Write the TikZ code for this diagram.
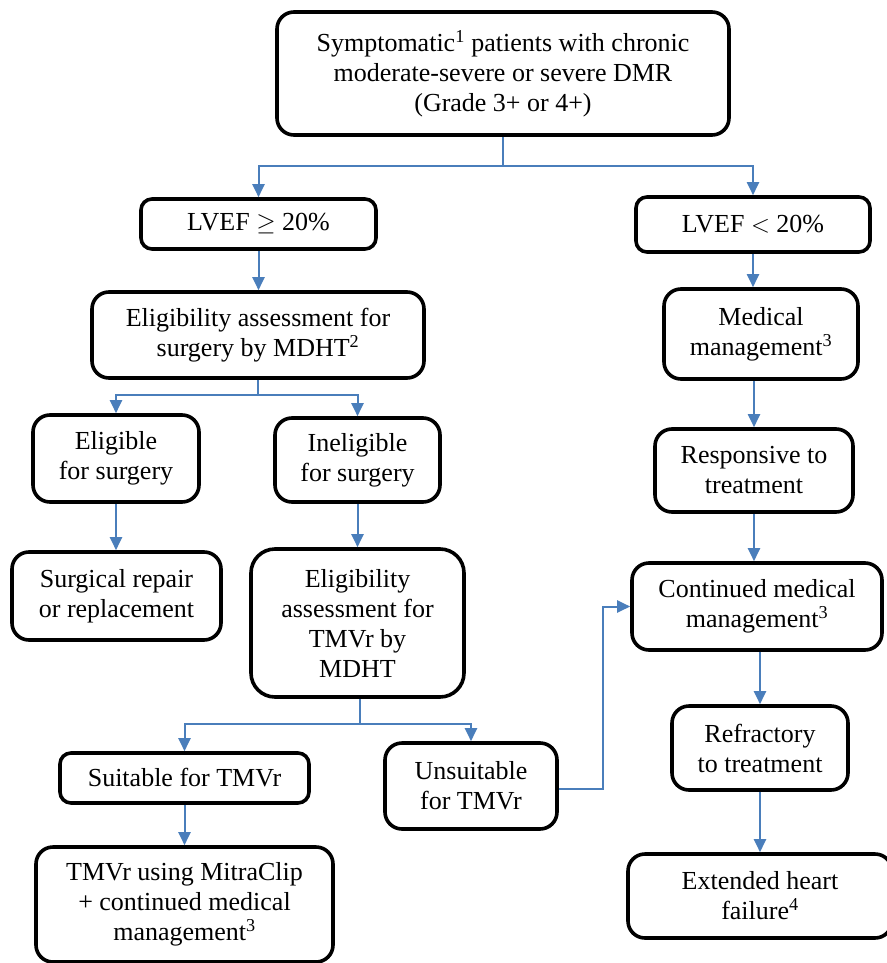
\documentclass[tikz,border=0pt]{standalone}
\usepackage{fontspec}
\setmainfont{Liberation Serif}
\usetikzlibrary{arrows.meta}
\definecolor{conncol}{RGB}{74,126,187}
\begin{document}
\begin{tikzpicture}[x=1pt,y=-1pt,
  box/.style={draw=black,line width=3.6pt,rounded corners=17pt,fill=white,
    align=center,inner sep=0pt,font=\fontsize{26}{30}\selectfont},
  sbox/.style={box,rounded corners=11pt},
  conn/.style={draw=conncol,line width=2pt},
  arr/.style={conn,-{Triangle[length=13pt,width=12pt]}}]
\useasboundingbox (0,0) rectangle (886,963);
\fill[white] (0,0) rectangle (886,963);

\node[box,minimum width=452pt,minimum height=123pt] (top) at (503,73.5)
  {Symptomatic\textsuperscript{1} patients with chronic\\moderate-severe or severe DMR\\(Grade 3+ or 4+)};
\node[sbox,minimum width=235pt,minimum height=50pt] (lvefge) at (258.5,224) {LVEF $\geq$ 20\%};
\node[sbox,minimum width=234pt,minimum height=55pt] (lveflt) at (753,224.5) {LVEF $<$ 20\%};
\node[box,minimum width=332pt,minimum height=86pt] (elsurg) at (258,335)
  {Eligibility assessment for\\surgery by MDHT\textsuperscript{2}};
\node[box,minimum width=194pt,minimum height=90pt] (medman) at (761,334)
  {Medical\\management\textsuperscript{3}};
\node[box,minimum width=166pt,minimum height=87pt] (elig) at (116,458.5)
  {Eligible\\for surgery};
\node[box,minimum width=165pt,minimum height=84pt] (inelig) at (357.5,460)
  {Ineligible\\for surgery};
\node[box,minimum width=209pt,minimum height=88pt] (surgrep) at (116.5,596)
  {Surgical repair\\or replacement};
\node[box,minimum width=213pt,minimum height=148pt,rounded corners=24pt] (tmvrass) at (357.5,623)
  {Eligibility\\assessment for\\TMVr by\\MDHT};
\node[box,minimum width=198pt,minimum height=83pt] (resp) at (754,470.5)
  {Responsive to\\treatment};
\node[box,minimum width=250pt,minimum height=87pt] (cont) at (757,606.5)
  {Continued medical\\management\textsuperscript{3}};
\node[sbox,minimum width=249pt,minimum height=50pt] (suit) at (184.5,778)
  {Suitable for TMVr};
\node[box,minimum width=172pt,minimum height=86pt] (unsuit) at (471,786)
  {Unsuitable\\for TMVr};
\node[box,minimum width=297pt,minimum height=115pt] (mitra) at (184.5,904.5)
  {TMVr using MitraClip\\+ continued medical\\management\textsuperscript{3}};
\node[box,minimum width=176pt,minimum height=84pt] (refr) at (760,748)
  {Refractory\\to treatment};
\node[box,minimum width=264pt,minimum height=84pt] (ext) at (760,896)
  {Extended heart\\failure\textsuperscript{4}};

% connectors
\coordinate (j1) at (503,166);
\draw[conn] (top.south) -- (j1);
\draw[arr] (j1) -| (lvefge.north);
\draw[arr] (j1) -| (lveflt.north);
\draw[arr] (lvefge.south) -- (elsurg.north -| lvefge.south);
\draw[arr] (lveflt.south) -- (medman.north -| lveflt.south);

\coordinate (j2) at (258,395);
\draw[conn] (elsurg.south) -- (j2);
\draw[arr] (j2) -| (elig.north);
\draw[arr] (j2) -| (inelig.north);
\draw[arr] (elig.south) -- (surgrep.north -| elig.south);
\draw[arr] (inelig.south) -- (tmvrass.north -| inelig.south);

\coordinate (j3) at (360,724);
\draw[conn] (tmvrass.south -| j3) -- (j3);
\draw[arr] (j3) -| (suit.north);
\draw[arr] (j3) -| (unsuit.north);
\draw[arr] (suit.south) -- (mitra.north -| suit.south);

\coordinate (k) at (603,789);
\draw[arr] (unsuit.east |- k) -- (k) |- (cont.west);

\draw[arr] (resp.north |- medman.south) -- (resp.north);
\draw[arr] (resp.south) -- (cont.north -| resp.south);
\draw[arr] (refr.north |- cont.south) -- (refr.north);
\draw[arr] (refr.south) -- (ext.north);
\end{tikzpicture}
\end{document}
